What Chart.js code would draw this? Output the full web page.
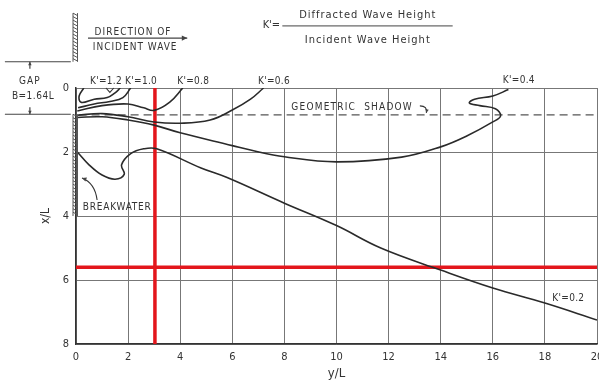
<!DOCTYPE html>
<html><head><meta charset="utf-8">
<script src="https://cdn.jsdelivr.net/npm/chart.js@4.4.1/dist/chart.umd.min.js"></script>
<style>html,body{margin:0;padding:0;background:#fff;overflow:hidden}</style>
</head><body>
<canvas id="c" width="599" height="383"></canvas>
<script>
// ---- data (x = y/L horizontal, y = x/L vertical, downward) ----
const xTicks = [0,2,4,6,8,10,12,14,16,18,20];
const yTicks = [0,2,4,6,8];

const k12X = [0.3,0.12,0.2,0.7,1.2,1.5,1.7];
const k12Y = [0.0,0.25,0.45,0.35,0.3,0.15,0.0];

const k10X = [0.08,0.7,1.3,1.8,2.1];
const k10Y = [0.62,0.5,0.42,0.3,0.0];

const k08X = [0.05,1.0,2.0,2.6,3.0,3.6,4.1];
const k08Y = [0.72,0.55,0.5,0.62,0.7,0.44,0.0];

const k06X = [0.05,1.0,2.0,3.0,4.0,5.15,6.0,6.7,7.2];
const k06Y = [0.85,0.8,0.9,1.06,1.1,1.0,0.69,0.35,0.0];

const k04X = [0.05,1.0,2.0,3.0,4.0,6.0,6.7,8.0,10.0,12.5,14.0,15.0,16.0,16.3,16.1,15.5,15.1,15.3,16.0,16.6];
const k04Y = [0.92,0.9,1.0,1.16,1.4,1.8,1.94,2.15,2.31,2.16,1.84,1.5,1.06,0.87,0.65,0.55,0.47,0.35,0.25,0.05];

const k02X = [0.05,0.5,1.0,1.5,1.85,1.75,2.1,2.6,3.1,4.8,5.8,8.0,10.0,11.7,14.0,16.0,18.0,20.0];
const k02Y = [2.0,2.4,2.72,2.85,2.7,2.4,2.05,1.9,1.9,2.5,2.8,3.6,4.3,5.0,5.69,6.25,6.72,7.25];

const shadowX = [0.1,20];   const shadowY = [0.84,0.84];
const redVX = [3.03,3.03];  const redVY = [0,8];
const redHX = [0,20];       const redHY = [5.6,5.6];

const gapHalf = 0.82;                 // B = 1.64 L
const breakwaterSpans = [[-2.34,-gapHalf],[gapHalf,4.0]];

const curveLabels = [
  {t:"K'=1.2", x:1.15, y:-0.22},
  {t:"K'=1.0", x:2.5,  y:-0.22},
  {t:"K'=0.8", x:4.5,  y:-0.22},
  {t:"K'=0.6", x:7.6,  y:-0.22},
  {t:"K'=0.4", x:17.0, y:-0.25},
  {t:"K'=0.2", x:18.9, y:6.56}
];

const pts = (xs, ys) => xs.map((v,i)=>({x:v, y:ys[i]}));
const FONT = "'DejaVu Sans Condensed','DejaVu Sans',sans-serif";
const INK = '#2a2a2a';

function curve(xs, ys){
  return {data:pts(xs,ys), showLine:true, pointRadius:0, borderColor:INK, borderWidth:1.6, tension:0.4, fill:false};
}

const deco = {
  id:'deco',
  afterDatasetsDraw(chart){
    const ctx = chart.ctx, sx = chart.scales.x, sy = chart.scales.y;
    const P = (u,v)=>[sx.getPixelForValue(u), sy.getPixelForValue(v)];
    ctx.save();
    // breakwater
    ctx.strokeStyle='#555'; ctx.lineWidth=1;
    for (const [a,b] of breakwaterSpans){
      const [x,ya]=P(0,a); const [,yb]=P(0,b);
      ctx.beginPath();
      ctx.moveTo(x-3,ya); ctx.lineTo(x-3,yb);
      ctx.moveTo(x+1.5,ya); ctx.lineTo(x+1.5,yb);
      for(let y=ya; y<yb-2; y+=3.5){ ctx.moveTo(x-3,y); ctx.lineTo(x+1.5,y+2.5); }
      ctx.stroke();
    }
    // gap lines
    ctx.strokeStyle='#444'; ctx.lineWidth=1.2;
    for (const v of [-gapHalf, gapHalf]){
      const [x1,y]=P(-2.73,v), [x2]=P(-0.2,v);
      ctx.beginPath(); ctx.moveTo(x1,y); ctx.lineTo(x2,y); ctx.stroke();
    }
    const arrowHead=(x,y,dx,dy,s)=>{
      const a=Math.atan2(dy,dx);
      ctx.beginPath(); ctx.moveTo(x,y);
      ctx.lineTo(x-s*Math.cos(a-0.45), y-s*Math.sin(a-0.45));
      ctx.lineTo(x-s*Math.cos(a+0.45), y-s*Math.sin(a+0.45));
      ctx.closePath(); ctx.fillStyle='#444'; ctx.fill();
    };
    {
      const [gx,gy1]=P(-1.77,-gapHalf), [,gy2]=P(-1.77,gapHalf);
      ctx.beginPath(); ctx.moveTo(gx,gy1); ctx.lineTo(gx,gy1+7); ctx.moveTo(gx,gy2); ctx.lineTo(gx,gy2-7); ctx.stroke();
      arrowHead(gx,gy1,0,-1,4); arrowHead(gx,gy2,0,1,4);
    }
    // direction arrow
    {
      const [x1,y]=P(0.46,-1.56), [x2]=P(4.27,-1.56);
      ctx.beginPath(); ctx.moveTo(x1,y); ctx.lineTo(x2,y); ctx.stroke();
      arrowHead(x2,y,1,0,6);
    }
    // fraction line
    {
      const [x1,y]=P(7.92,-1.94), [x2]=P(14.46,-1.94);
      ctx.lineWidth=1; ctx.beginPath(); ctx.moveTo(x1,y); ctx.lineTo(x2,y); ctx.stroke();
    }
    // pointers
    ctx.lineWidth=1.1; ctx.strokeStyle='#333';
    {
      const [a,b]=P(0.81,3.5), [c,d]=P(0.73,2.97), [e,f]=P(0.23,2.81);
      ctx.beginPath(); ctx.moveTo(a,b); ctx.quadraticCurveTo(c,d,e,f); ctx.stroke();
      arrowHead(e,f,e-c,f-d,5);
      const [g,h]=P(13.2,0.56), [i,j]=P(13.5,0.56), [k,l]=P(13.45,0.78);
      ctx.beginPath(); ctx.moveTo(g,h); ctx.quadraticCurveTo(i,j,k,l); ctx.stroke();
      arrowHead(k,l,k-i,l-j,4);
      const [m,n]=P(1.15,0.0), [o,p]=P(1.3,0.14), [q,r]=P(1.45,0.0);
      ctx.beginPath(); ctx.moveTo(m,n); ctx.lineTo(o,p); ctx.lineTo(q,r); ctx.stroke();
    }
    // texts
    ctx.fillStyle='#333'; ctx.textAlign='center'; ctx.textBaseline='middle';
    const txt=(t,u,v,size,sp)=>{ const [x,y]=P(u,v); ctx.font=size+'px '+FONT; ctx.letterSpacing=(sp||0)+'px'; ctx.fillText(t,x,y); };
    for (const l of curveLabels) txt(l.t,l.x,l.y,10,0.3);
    txt('GEOMETRIC  SHADOW',10.6,0.62,10,1.2);
    txt('BREAKWATER',1.58,3.72,10,0.8);
    txt('DIRECTION OF',2.19,-1.75,10,1);
    txt('INCIDENT WAVE',2.27,-1.28,10,1);
    txt("K'=",7.5,-1.97,11,0);
    txt('Diffracted Wave Height',11.2,-2.28,11,1);
    txt('Incident Wave Height',11.2,-1.5,11,1);
    txt('GAP',-1.77,-0.2,10,1);
    txt('B=1.64L',-1.65,0.25,10,0.5);
    ctx.restore();
  }
};

new Chart(document.getElementById('c'), {
  type:'scatter',
  data:{datasets:[
    curve(k12X,k12Y), curve(k10X,k10Y), curve(k08X,k08Y),
    curve(k06X,k06Y), curve(k04X,k04Y), curve(k02X,k02Y),
    {data:pts(shadowX,shadowY), showLine:true, pointRadius:0, borderColor:'#555', borderWidth:1.3, borderDash:[8,5], tension:0},
    {data:pts(redVX,redVY), showLine:true, pointRadius:0, borderColor:'#e3161c', borderWidth:3.5, tension:0},
    {data:pts(redHX,redHY), showLine:true, pointRadius:0, borderColor:'#e3161c', borderWidth:3.5, tension:0}
  ]},
  options:{
    responsive:false, animation:false, devicePixelRatio:1,
    layout:{padding:{top:88,right:2,left:0,bottom:0}},
    plugins:{legend:{display:false}, tooltip:{enabled:false}},
    scales:{
      x:{type:'linear', min:0, max:20,
        afterBuildTicks:s=>{s.ticks=xTicks.map(v=>({value:v}));},
        afterFit:s=>{s.height=39; s.paddingLeft=0; s.paddingRight=0;},
        ticks:{color:'#333', font:{family:FONT,size:11}, padding:7, maxRotation:0, autoSkip:false},
        grid:{color:'#777', lineWidth:1, drawTicks:false},
        border:{color:'#333', width:1.5},
        title:{display:true, text:'y/L', color:'#333', font:{family:FONT,size:13}, padding:{top:0,bottom:2}}
      },
      y:{type:'linear', min:0, max:8, reverse:true,
        afterBuildTicks:s=>{s.ticks=yTicks.map(v=>({value:v}));},
        afterFit:s=>{s.width=76; s.paddingTop=0; s.paddingBottom=0;},
        ticks:{color:'#333', font:{family:FONT,size:11}, padding:7, autoSkip:false},
        grid:{color:'#777', lineWidth:1, drawTicks:false},
        border:{color:'#333', width:1.5},
        title:{display:true, text:'x/L', color:'#333', font:{family:FONT,size:12}, padding:{top:39,bottom:0}}
      }
    }
  },
  plugins:[deco]
});
</script>
</body></html>
